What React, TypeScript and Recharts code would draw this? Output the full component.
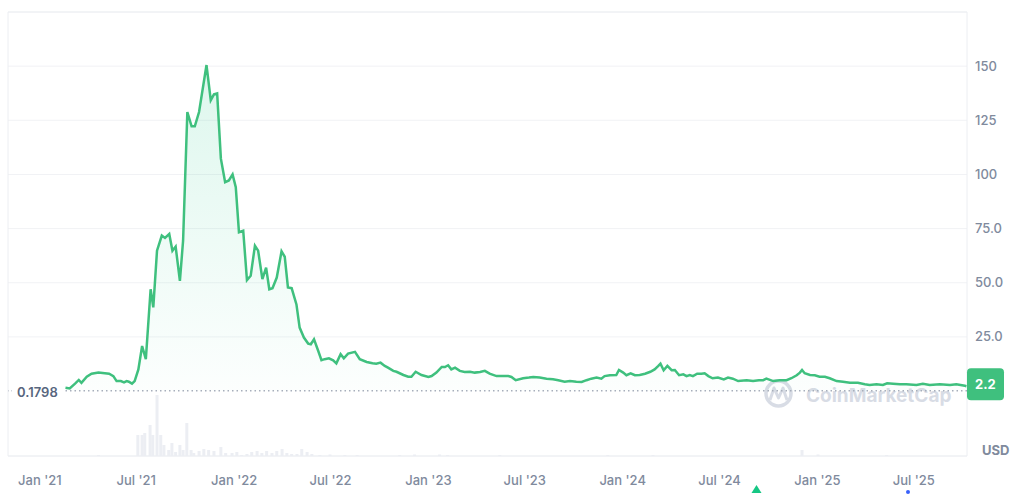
import React from 'react';
import {
  ComposedChart,
  Area,
  Bar,
  XAxis,
  YAxis,
  CartesianGrid,
  ReferenceLine,
  ReferenceArea,
  Customized,
} from 'recharts';

// Days counted from 2021-01-01
const priceDays = [
  48, 56, 66, 73, 78, 88, 97, 110, 122, 130, 138, 144, 152, 158, 163, 167, 173, 178, 185, 192, 199,
  208, 213, 220, 229, 235, 243, 249, 255, 263, 269, 277, 285, 291, 299, 313, 321, 327, 333, 340,
  348, 355, 362, 368, 374, 382, 389, 396, 404, 410, 418, 425, 431, 437, 445, 454, 460, 466, 473,
  482, 488, 496, 504, 509, 515, 523, 529, 535, 543, 551, 557, 565, 571, 579, 592, 601, 614, 625,
  632, 640, 648, 654, 664, 670, 683, 692, 698, 706, 717, 730, 736, 745, 755, 761, 767, 773, 780,
  789, 798, 808, 817, 827, 836, 845, 858, 870, 880, 886, 894, 908, 919, 927, 939, 952, 964, 974,
  986, 996, 1008, 1018, 1027, 1036, 1046, 1055, 1061, 1071, 1083, 1088, 1096, 1102, 1110, 1118,
  1127, 1137, 1147, 1155, 1162, 1166, 1172, 1179, 1187, 1193, 1201, 1209, 1215, 1221, 1227, 1235,
  1243, 1249, 1256, 1264, 1274, 1285, 1293, 1302, 1312, 1328, 1340, 1351, 1359, 1365, 1378, 1390,
  1403, 1412, 1422, 1428, 1432, 1437, 1447, 1456, 1465, 1475, 1484, 1497, 1509, 1522, 1537, 1550,
  1559, 1572, 1584, 1592, 1603, 1616, 1628, 1647, 1659, 1672, 1691, 1710, 1722, 1738, 1741,
];

const priceValues = [
  1.5, 1.2, 3.4, 5.1, 3.8, 6.6, 8.0, 8.5, 8.2, 8.0, 6.9, 4.6, 4.6, 4.0, 4.6, 4.3, 3.4, 4.6, 10, 20.8, 14.7,
  47, 38.6, 64.8, 71.8, 70.7, 72.5, 64.8, 66.7, 50.9, 69.4, 128.8, 122.2, 122.2, 128.8, 150.5, 134.3, 137, 137.4, 107.3,
  96.4, 97.2, 100, 94.1, 73.3, 74, 51.2, 53.2, 67.1, 64.8, 51.7, 57, 47, 47.5, 52.4, 64.5, 62, 47.8, 47.5,
  40, 29.3, 24.7, 21.9, 21.6, 23.9, 18.5, 14.2, 14.7, 15.1, 14.2, 12.8, 17, 15.1, 17.3, 18.1, 14.7, 13.4, 12.8,
  12.6, 13.1, 11.6, 10.8, 9.3, 8.9, 7.4, 6.6, 6.6, 8.9, 7.4, 6.5, 6.9, 8.5, 11.1, 11.1, 11.9, 10, 10.8,
  9.3, 8.8, 8.9, 8.5, 8.8, 9.3, 8.0, 6.9, 6.9, 6.9, 6.5, 5.0, 5.9, 6.2, 6.5, 6.2, 5.7, 5.4, 5.0,
  4.3, 4.6, 4.3, 4.2, 5.0, 5.7, 6.2, 5.7, 6.9, 7.3, 7.4, 9.7, 8.5, 7.3, 8.2, 7.3,
  7.4, 8.0, 8.9, 10, 11.6, 12.6, 9.6, 11.6, 9.6, 9.7, 7.3, 7.7, 6.9, 7.4, 6.9, 8.0,
  8.0, 8.2, 6.9, 5.9, 6.2, 5.4, 6.2, 5.7, 4.6, 5.0, 4.6, 5.0, 5.0, 5.7, 4.6, 5.0,
  5.0, 5.9, 7.3, 8.5, 9.7, 8.2, 7.4, 7.3, 6.6, 6.6, 5.9, 4.6, 4.3, 3.8, 3.8, 3.1,
  2.8, 3.1, 2.8, 3.6, 3.4, 3.1, 3.1, 2.8, 3.4, 2.8, 3.1, 2.8, 3.1, 2.4, 2.2,
];

const volumeDays = [
  110, 184, 192, 197, 207, 212, 220, 227, 233, 242, 248, 255, 263, 269, 276, 284, 289, 299, 308, 317,
  327, 340, 349, 361, 370, 379, 389, 398, 408, 417, 426, 436, 445, 455, 464, 473, 483, 492, 502, 511,
  526, 545, 573, 596, 676, 704, 751, 766, 864, 1067, 1152, 1432, 1462, 1591,
];
const volumeValues = [
  0.1, 2.1, 2.1, 2.3, 3.1, 2.1, 6.1, 2.1, 1.1, 0.6, 1.3, 0.4, 1.1, 0.6, 3.3, 0.6, 0.3, 0.5, 0.7, 0.6,
  0.5, 0.9, 0.3, 0.3, 0.4, 0.1, 0.2, 0.4, 0.5, 0.3, 0.5, 0.3, 0.5, 0.7, 0.3, 0.2, 0.2, 0.7, 0.4, 0.2,
  0.1, 0.15, 0.1, 0.1, 0.1, 0.15, 0.15, 0.1, 0.1, 0.1, 0.1, 0.6, 0.15, 0.1,
];

const tickDays = [0, 181, 365, 546, 730, 911, 1095, 1277, 1461, 1642];
const tickLabels = ["Jan '21", "Jul '21", "Jan '22", "Jul '22", "Jan '23", "Jul '23", "Jan '24", "Jul '24", "Jan '25", "Jul '25"];
const priceTicks = [25, 50, 75, 100, 125, 150, 175];
const startPrice = 0.1798;
const lastPrice = 2.2;

const GREEN = '#3fc07e';
const GRAY = '#808a9d';

type Row = { day: number; price?: number; volume?: number };
const rows: Row[] = [
  ...priceDays.map((d, i) => ({ day: d, price: priceValues[i] })),
  ...volumeDays.map((d, i) => ({ day: d, volume: volumeValues[i] })),
].sort((a, b) => a.day - b.day);

const fmtPrice = (v: number) => (v === 175 ? '' : v >= 100 ? String(v) : v.toFixed(1));
const fmtDay = (d: number) => {
  const i = tickDays.indexOf(d);
  return i >= 0 ? tickLabels[i] : '';
};

const VolumeBar = (props: any) => {
  const { x, y, width, height, fill } = props;
  if (!height || height <= 0 || !isFinite(y)) return null;
  const cx = x + width / 2;
  return <rect x={cx - 1.5} y={y} width={3} height={height} fill={fill} />;
};

const StartLabel = (props: any) => {
  const vb = props.viewBox || {};
  const x = vb.x ?? 0;
  const y = vb.y ?? 0;
  return (
    <g>
      <rect x={x + 4} y={y - 9} width={53} height={18} fill="#ffffff" />
      <text x={x + 9} y={y + 1} dominantBaseline="central" fill="#58667e" fontSize={13} fontWeight={600}>
        {String(startPrice)}
      </text>
    </g>
  );
};

const EndLabel = (props: any) => {
  const vb = props.viewBox || {};
  const x = (vb.x ?? 0) + (vb.width ?? 0);
  const y = vb.y ?? 0;
  return (
    <g>
      <rect x={x} y={y - 18} width={37} height={32} rx={4} fill={GREEN} />
      <text x={x + 8} y={y - 2} dominantBaseline="central" fill="#ffffff" fontSize={13} fontWeight={700}>
        {String(lastPrice)}
      </text>
    </g>
  );
};

const Watermark = () => (
  <g>
    <g opacity={0.55}>
      <circle cx={778.5} cy={393.5} r={12.5} fill="none" stroke="#b9c1d0" strokeWidth={3.5} />
      <path d="M770 400 L774 388 L778.5 398 L783 388 L787 400" fill="none" stroke="#b9c1d0" strokeWidth={3} strokeLinejoin="round" />
      <text x={806} y={402} fill="#b9c1d0" fontSize={19} fontWeight={700}>
        CoinMarketCap
      </text>
    </g>
    <path d="M751.5 493 L756.5 485 L761.5 493 Z" fill="#16c784" />
    <circle cx={908} cy={492} r={2} fill="#3861fb" />
  </g>
);

export default function App() {
  return (
    <div style={{ position: 'absolute', left: 0, top: 0, width: 1024, height: 495, background: '#ffffff', fontFamily: 'Inter, sans-serif' }}>
      <ComposedChart
        width={1024}
        height={495}
        data={rows}
        margin={{ top: 12, right: 0, bottom: 0, left: 8 }}
        style={{ fontFamily: 'Inter, sans-serif' }}
      >
        <defs>
          <linearGradient id="priceFill" x1="0" y1="0" x2="0" y2="1">
            <stop offset="0%" stopColor="#16c784" stopOpacity={0.24} />
            <stop offset="100%" stopColor="#16c784" stopOpacity={0.02} />
          </linearGradient>
        </defs>
        <CartesianGrid yAxisId="price" vertical={false} stroke="#f1f2f5" />
        <ReferenceArea
          yAxisId="price"
          x1={-60}
          x2={1742}
          y1={-30}
          y2={175}
          fill="none"
          stroke="#eceef2"
          strokeOpacity={1}
        />
        <XAxis
          dataKey="day"
          type="number"
          domain={[-60, 1742]}
          allowDataOverflow
          ticks={tickDays}
          tickFormatter={fmtDay}
          axisLine={false}
          tickLine={false}
          height={39}
          tickMargin={14}
          tick={{ fill: GRAY, fontSize: 13, fontWeight: 500 }}
        />
        <YAxis
          yAxisId="price"
          orientation="right"
          type="number"
          domain={[-30, 175]}
          allowDataOverflow
          ticks={priceTicks}
          tickFormatter={fmtPrice}
          axisLine={false}
          tickLine={false}
          width={57}
          tick={{ fill: GRAY, fontSize: 13, fontWeight: 500 }}
        />
        <YAxis yAxisId="vol" hide domain={[0, 44.4]} allowDataOverflow />
        <Customized component={Watermark} />
        <Bar
          yAxisId="vol"
          dataKey="volume"
          fill="#eceef3"
          shape={VolumeBar}
          isAnimationActive={false}
        />
        <ReferenceLine
          yAxisId="price"
          y={startPrice}
          stroke="#a7aebb"
          strokeWidth={1.5}
          strokeDasharray="1.5 3"
          label={StartLabel}
        />
        <Area
          yAxisId="price"
          dataKey="price"
          type="linear"
          connectNulls
          baseValue={0}
          stroke={GREEN}
          strokeWidth={2.5}
          fill="url(#priceFill)"
          dot={false}
          activeDot={false}
          isAnimationActive={false}
        />
        <ReferenceLine yAxisId="price" y={lastPrice} stroke="none" label={EndLabel} />
      </ComposedChart>
      <div
        style={{
          position: 'absolute',
          left: 982,
          top: 442,
          fontSize: 13,
          fontWeight: 700,
          color: GRAY,
          fontFamily: 'Inter, sans-serif',
        }}
      >
        USD
      </div>
    </div>
  );
}
